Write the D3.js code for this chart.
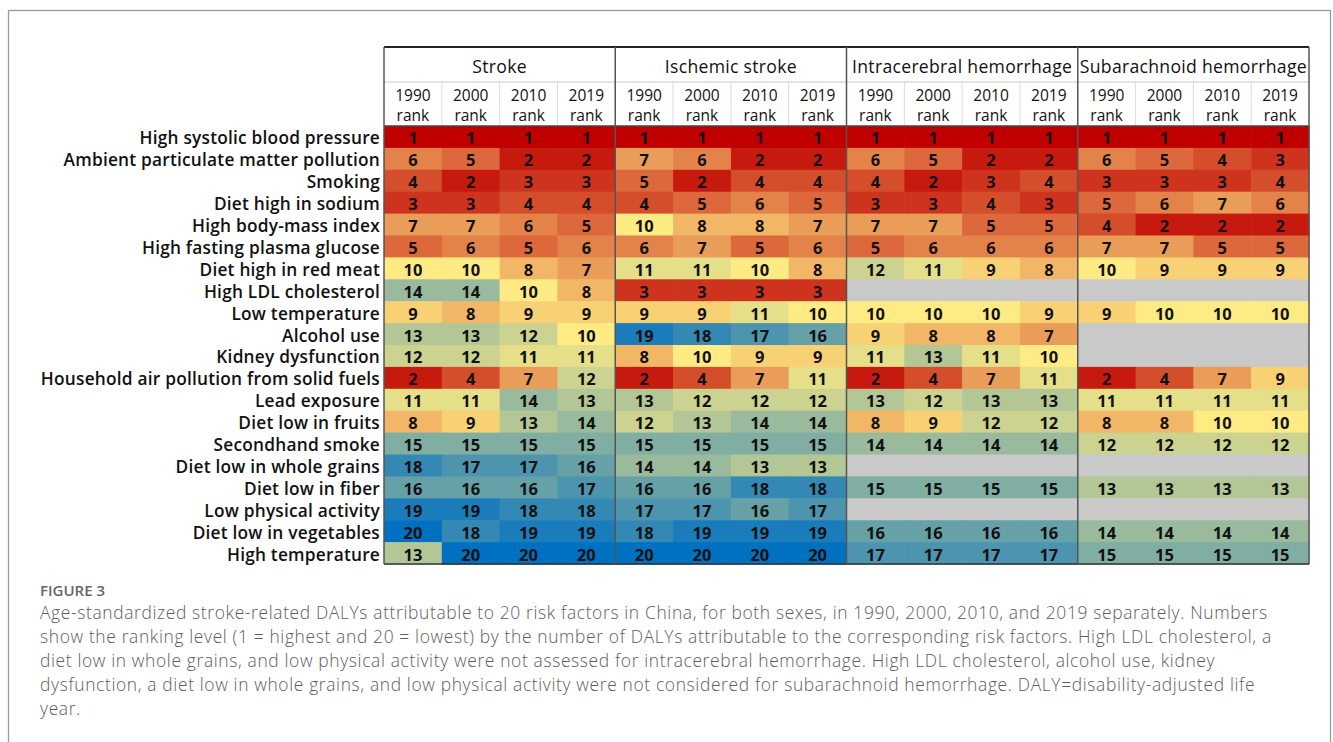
<!DOCTYPE html>
<html>
<head>
<meta charset="utf-8">
<script src="https://cdn.jsdelivr.net/npm/d3@7"></script>
<style>
  html, body { margin: 0; padding: 0; background: #fff; }
  svg { display: block; }
</style>
</head>
<body>
<svg id="chart" width="1333" height="742"></svg>
<script>
// Risk factors (rows), top to bottom
const factors = [
  "High systolic blood pressure",
  "Ambient particulate matter pollution",
  "Smoking",
  "Diet high in sodium",
  "High body-mass index",
  "High fasting plasma glucose",
  "Diet high in red meat",
  "High LDL cholesterol",
  "Low temperature",
  "Alcohol use",
  "Kidney dysfunction",
  "Household air pollution from solid fuels",
  "Lead exposure",
  "Diet low in fruits",
  "Secondhand smoke",
  "Diet low in whole grains",
  "Diet low in fiber",
  "Low physical activity",
  "Diet low in vegetables",
  "High temperature"
];

const outcomes = ["Stroke", "Ischemic stroke", "Intracerebral hemorrhage", "Subarachnoid hemorrhage"];
const years = ["1990", "2000", "2010", "2019"];

// Rank per factor for 1990, 2000, 2010, 2019 (null = not assessed)
const strokeRanks = [
  [1, 1, 1, 1], [6, 5, 2, 2], [4, 2, 3, 3], [3, 3, 4, 4], [7, 7, 6, 5],
  [5, 6, 5, 6], [10, 10, 8, 7], [14, 14, 10, 8], [9, 8, 9, 9], [13, 13, 12, 10],
  [12, 12, 11, 11], [2, 4, 7, 12], [11, 11, 14, 13], [8, 9, 13, 14], [15, 15, 15, 15],
  [18, 17, 17, 16], [16, 16, 16, 17], [19, 19, 18, 18], [20, 18, 19, 19], [13, 20, 20, 20]
];
const ischemicRanks = [
  [1, 1, 1, 1], [7, 6, 2, 2], [5, 2, 4, 4], [4, 5, 6, 5], [10, 8, 8, 7],
  [6, 7, 5, 6], [11, 11, 10, 8], [3, 3, 3, 3], [9, 9, 11, 10], [19, 18, 17, 16],
  [8, 10, 9, 9], [2, 4, 7, 11], [13, 12, 12, 12], [12, 13, 14, 14], [15, 15, 15, 15],
  [14, 14, 13, 13], [16, 16, 18, 18], [17, 17, 16, 17], [18, 19, 19, 19], [20, 20, 20, 20]
];
const ichRanks = [
  [1, 1, 1, 1], [6, 5, 2, 2], [4, 2, 3, 4], [3, 3, 4, 3], [7, 7, 5, 5],
  [5, 6, 6, 6], [12, 11, 9, 8], null, [10, 10, 10, 9], [9, 8, 8, 7],
  [11, 13, 11, 10], [2, 4, 7, 11], [13, 12, 13, 13], [8, 9, 12, 12], [14, 14, 14, 14],
  null, [15, 15, 15, 15], null, [16, 16, 16, 16], [17, 17, 17, 17]
];
const sahRanks = [
  [1, 1, 1, 1], [6, 5, 4, 3], [3, 3, 3, 4], [5, 6, 7, 6], [4, 2, 2, 2],
  [7, 7, 5, 5], [10, 9, 9, 9], null, [9, 10, 10, 10], null,
  null, [2, 4, 7, 9], [11, 11, 11, 11], [8, 8, 10, 10], [12, 12, 12, 12],
  null, [13, 13, 13, 13], null, [14, 14, 14, 14], [15, 15, 15, 15]
];
const rankTables = [strokeRanks, ischemicRanks, ichRanks, sahRanks];

const captionTitle = "FIGURE 3";
const captionLines = [
  "Age-standardized stroke-related DALYs attributable to 20 risk factors in China, for both sexes, in 1990, 2000, 2010, and 2019 separately. Numbers",
  "show the ranking level (1 = highest and 20 = lowest) by the number of DALYs attributable to the corresponding risk factors. High LDL cholesterol, a",
  "diet low in whole grains, and low physical activity were not assessed for intracerebral hemorrhage. High LDL cholesterol, alcohol use, kidney",
  "dysfunction, a diet low in whole grains, and low physical activity were not considered for subarachnoid hemorrhage. DALY=disability-adjusted life",
  "year."
];

// ---- layout ----
const svg = d3.select("#chart");
const tableLeft = 384, tableRight = 1309;
const headTop = 47, headMid = 82, dataTop = 126, dataBottom = 564;
const labelFont = "'Open Sans', 'Noto Sans', sans-serif";
const numFont = "'Open Sans', 'Noto Sans', sans-serif";

// outer frame
svg.append("rect")
  .attr("x", 8.5).attr("y", 10.5)
  .attr("width", 1322).attr("height", 760)
  .attr("fill", "none").attr("stroke", "#9a9a9a").attr("stroke-width", 1.3);

const columns = [];
outcomes.forEach((o, gi) => years.forEach((yr, yi) => columns.push({ key: gi + "-" + yi, g: gi, yi, yr })));

const x = d3.scaleBand().domain(columns.map(c => c.key)).range([tableLeft, tableRight]);
const xg = d3.scaleBand().domain(outcomes).range([tableLeft, tableRight]);
const y = d3.scaleBand().domain(factors).range([dataTop, dataBottom]);

const color = d3.scaleLinear()
  .domain([1, 10, 20])
  .range(["#c00000", "#ffeb84", "#0070c0"])
  .interpolate(d3.interpolateRgb);
const missingColor = "#c9c9c9";

// cells
const cells = [];
rankTables.forEach((tbl, gi) => {
  tbl.forEach((row, ri) => {
    years.forEach((yr, yi) => {
      cells.push({ factor: factors[ri], key: gi + "-" + yi, value: row ? row[yi] : null });
    });
  });
});

const cellG = svg.append("g");
cellG.selectAll("rect")
  .data(cells)
  .join("rect")
  .attr("x", d => x(d.key))
  .attr("y", d => y(d.factor))
  .attr("width", x.bandwidth() + 0.6)
  .attr("height", y.bandwidth() + 0.6)
  .attr("fill", d => d.value == null ? missingColor : color(d.value));

cellG.selectAll("text")
  .data(cells.filter(d => d.value != null))
  .join("text")
  .attr("x", d => x(d.key) + x.bandwidth() / 2)
  .attr("y", d => y(d.factor) + y.bandwidth() / 2 + 1)
  .attr("text-anchor", "middle")
  .attr("dominant-baseline", "central")
  .attr("font-family", numFont)
  .attr("font-weight", 700)
  .attr("font-size", 16.5)
  .attr("fill", "#111")
  .text(d => d.value);

// row labels
svg.append("g").selectAll("text")
  .data(factors)
  .join("text")
  .attr("x", tableLeft - 4)
  .attr("y", d => y(d) + y.bandwidth() / 2 + 1)
  .attr("text-anchor", "end")
  .attr("dominant-baseline", "central")
  .attr("font-family", labelFont)
  .attr("font-weight", 600)
  .attr("font-size", 17.3)
  .attr("letter-spacing", 0.22)
  .attr("fill", "#111")
  .text(d => d);

// header
const head = svg.append("g");
head.append("rect")
  .attr("x", tableLeft).attr("y", headTop)
  .attr("width", tableRight - tableLeft).attr("height", dataTop - headTop)
  .attr("fill", "#fff");

// thin lines between year columns inside the header
head.selectAll("line.yr")
  .data(columns.filter(c => c.yi > 0))
  .join("line")
  .attr("x1", d => x(d.key)).attr("x2", d => x(d.key))
  .attr("y1", headMid).attr("y2", dataTop)
  .attr("stroke", "#dcdcdc").attr("stroke-width", 1);

// line between group titles and year row
head.append("line")
  .attr("x1", tableLeft).attr("x2", tableRight)
  .attr("y1", headMid).attr("y2", headMid)
  .attr("stroke", "#c8c8c8").attr("stroke-width", 1);

head.selectAll("text.grp")
  .data(outcomes)
  .join("text")
  .attr("x", d => xg(d) + xg.bandwidth() / 2)
  .attr("y", (headTop + headMid) / 2 + 1)
  .attr("text-anchor", "middle")
  .attr("dominant-baseline", "central")
  .attr("font-family", labelFont)
  .attr("font-weight", 500)
  .attr("font-size", 17.6)
  .attr("letter-spacing", 0.3)
  .attr("fill", "#111")
  .text(d => d);

const yrText = head.selectAll("text.yr")
  .data(columns)
  .join("text")
  .attr("text-anchor", "middle")
  .attr("font-family", labelFont)
  .attr("font-weight", 400)
  .attr("font-size", 15.5)
  .attr("fill", "#111");
yrText.append("tspan")
  .attr("x", d => x(d.key) + x.bandwidth() / 2)
  .attr("y", 101)
  .text(d => d.yr);
yrText.append("tspan")
  .attr("x", d => x(d.key) + x.bandwidth() / 2)
  .attr("y", 121)
  .text("rank");

// table borders
const frame = svg.append("g").attr("fill", "none");
frame.append("line")
  .attr("x1", tableLeft).attr("x2", tableRight)
  .attr("y1", headTop).attr("y2", headTop)
  .attr("stroke", "#222").attr("stroke-width", 2);
frame.append("line")
  .attr("x1", tableLeft).attr("x2", tableRight)
  .attr("y1", dataTop).attr("y2", dataTop)
  .attr("stroke", "#444").attr("stroke-width", 1.5);
frame.append("line")
  .attr("x1", tableLeft).attr("x2", tableRight)
  .attr("y1", dataBottom).attr("y2", dataBottom)
  .attr("stroke", "#333").attr("stroke-width", 1.5);
frame.selectAll("line.grp")
  .data(outcomes)
  .join("line")
  .attr("x1", d => xg(d)).attr("x2", d => xg(d))
  .attr("y1", headTop).attr("y2", dataBottom)
  .attr("stroke", "#555").attr("stroke-width", 1.5);
frame.append("line")
  .attr("x1", tableRight).attr("x2", tableRight)
  .attr("y1", headTop).attr("y2", dataBottom)
  .attr("stroke", "#555").attr("stroke-width", 1.5);

// caption
const cap = svg.append("g").attr("font-family", "'Open Sans', 'Noto Sans', sans-serif");
cap.append("text")
  .attr("x", 40).attr("y", 596)
  .attr("font-size", 15)
  .attr("font-weight", 600)
  .attr("fill", "#666")
  .text(captionTitle);
const capText = cap.selectAll("text.line")
  .data(captionLines)
  .join("text")
  .attr("x", 40)
  .attr("y", (d, i) => 619 + i * 24)
  .attr("font-size", 17.4)
  .attr("font-weight", 300)
  .attr("fill", "#5c5c5c")
  .text(d => d);
// widen tracking so the first line runs out to the right margin of the text block
const firstNode = capText.node();
const natural = firstNode.getComputedTextLength();
const target = 1227;
const spacing = Math.max(0, (target - natural) / (captionLines[0].length - 1));
capText.attr("letter-spacing", spacing);
</script>
</body>
</html>
